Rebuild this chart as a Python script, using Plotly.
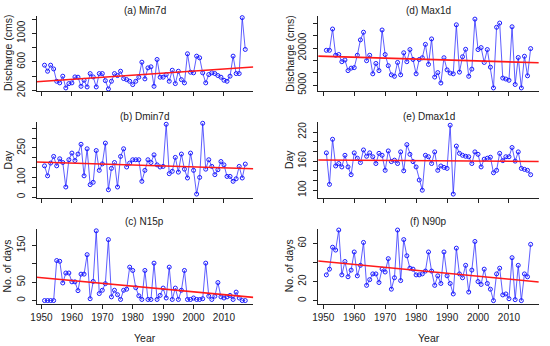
import numpy as np
import plotly.graph_objects as go

years = list(range(1951, 2018))

min7d = [553, 468, 553, 500, 327, 304, 398, 233, 294, 304, 388, 384, 256, 341, 247, 435, 388, 247, 435, 435,
         336, 219, 327, 435, 407, 468, 365, 350, 327, 280, 327, 384, 595, 360, 515, 530, 256, 633, 384, 384,
         421, 327, 482, 294, 468, 350, 304, 713, 454, 445, 680, 656, 445, 304, 421, 445, 435, 407, 384, 341,
         327, 398, 680, 435, 435, 1221, 774]

max1d = [19100, 19100, 27700, 17100, 17400, 14500, 15200, 10900, 11900, 12100, 17100, 23300, 26400, 14900, 17100,
         9600, 13800, 10900, 27300, 17400, 12900, 9200, 8600, 14200, 9200, 18100, 14500, 19400, 15400, 9600,
         15400, 16100, 21500, 13400, 23700, 8300, 10100, 5900, 16100, 11200, 9900, 9600, 29400, 10300, 16500,
         19500, 8600, 11500, 31700, 19400, 20200, 14200, 19400, 12300, 3900, 28400, 30100, 7900, 7500, 7000,
         28600, 5300, 16200, 3900, 16700, 8800, 19800]

dmin7d = [159, 108, 173, 207, 159, 195, 176, 51, 190, 224, 186, 219, 269, 108, 246, 63, 75, 237, 136, 169,
          275, 37, 146, 176, 51, 207, 246, 153, 173, 190, 190, 190, 80, 136, 190, 176, 215, 164, 153, 156,
          371, 119, 131, 202, 127, 219, 142, 97, 224, 136, 15, 100, 376, 142, 190, 156, 114, 139, 181, 164,
          105, 105, 80, 93, 156, 97, 168]

dmax1d = [177, 112, 205, 150, 155, 148, 172, 148, 132, 177, 166, 157, 183, 170, 177, 169, 155, 176, 172, 141,
          181, 159, 162, 155, 179, 140, 194, 174, 159, 148, 121, 100, 172, 169, 155, 179, 141, 150, 147, 145,
          234, 92, 191, 176, 172, 170, 169, 155, 179, 174, 148, 164, 166, 168, 136, 141, 176, 161, 169, 169,
          188, 160, 179, 145, 143, 141, 132]

n15p = [0, 0, 0, 0, 109, 107, 48, 75, 75, 51, 51, 27, 72, 72, 125, 5, 52, 190, 19, 28,
        46, 166, 10, 28, 16, 3, 28, 31, 91, 82, 35, 13, 3, 82, 3, 3, 102, 3, 14, 34,
        7, 91, 3, 34, 3, 28, 82, 3, 3, 7, 3, 3, 5, 102, 12, 3, 12, 49, 10, 7,
        10, 14, 3, 23, 7, 0, 0]

n90p = [27, 33, 56, 53, 74, 27, 41, 25, 32, 51, 26, 37, 61, 16, 22, 28, 28, 19, 33, 30,
        44, 12, 24, 74, 21, 64, 47, 34, 33, 27, 27, 28, 31, 51, 31, 16, 26, 18, 51, 26,
        18, 7, 55, 28, 24, 37, 9, 32, 62, 20, 17, 33, 18, 12, 0, 28, 34, 6, 7, 2,
        45, 1, 37, 0, 28, 25, 59]

xticks = [1950, 1960, 1970, 1980, 1990, 2000, 2010]
xlabels = [str(v) for v in xticks]
xrange_ = [1948.36, 2019.64]

W, H = 550, 346
FONT = "Liberation Sans, Arial, sans-serif"
INK = "#222222"

cols = {0: (36.5, 253.3), 1: (318.2, 538.8)}
rows = {0: (16.0, 91.0), 1: (122.3, 197.5), 2: (228.6, 303.5)}
title_y = {0: 11, 1: 116.5, 2: 222}

panels = [
    dict(y=min7d, title="(a) Min7d", ylab="Discharge (cms)", col=0, row=0, yr=[190, 1244],
         tv=[200, 400, 600, 800, 1000, 1200], tt=["200", "", "600", "", "1000", ""]),
    dict(y=dmin7d, title="(b) Dmin7d", ylab="Day", col=0, row=1, yr=[-2.5, 381],
         tv=[0, 50, 100, 150, 200, 250, 300, 350], tt=["0", "", "100", "", "", "250", "", ""]),
    dict(y=n15p, title="(c) N15p", ylab="No. of days", col=0, row=2, yr=[-8, 196],
         tv=[0, 50, 100, 150], tt=["0", "50", "", "150"]),
    dict(y=max1d, title="(d) Max1d", ylab="Discharge (cms)", col=1, row=0, yr=[2670, 32950],
         tv=[5000, 10000, 15000, 20000, 25000, 30000], tt=["5000", "", "", "20000", "", ""]),
    dict(y=dmax1d, title="(e) Dmax1d", ylab="Day", col=1, row=1, yr=[85, 240],
         tv=[100, 120, 140, 160, 180, 200, 220], tt=["100", "", "", "160", "", "", "220"]),
    dict(y=n90p, title="(f) N90p", ylab="No. of days", col=1, row=2, yr=[-3, 75.5],
         tv=[0, 20, 40, 60], tt=["0", "20", "", "60"]),
]

fig = go.Figure()
annotations = []
layout = {}
for i, p in enumerate(panels, start=1):
    sfx = "" if i == 1 else str(i)
    x0, x1 = cols[p["col"]]
    top, bot = rows[p["row"]]
    xa = "x" + sfx
    ya = "y" + sfx
    fig.add_trace(go.Scatter(
        x=years, y=p["y"], xaxis=xa, yaxis=ya, mode="lines+markers",
        line=dict(color="rgba(40,40,255,0.75)", width=1),
        marker=dict(symbol="circle-open", size=4, color="#1a1aff", line=dict(width=1)),
        hoverinfo="skip", cliponaxis=False))
    k, b = np.polyfit(years, p["y"], 1)
    fx = np.array(xrange_)
    fig.add_trace(go.Scatter(
        x=fx, y=k * fx + b, xaxis=xa, yaxis=ya, mode="lines",
        line=dict(color="#ff1a1a", width=1.6), hoverinfo="skip"))
    bottom_row = p["row"] == 2
    layout["xaxis" + sfx] = dict(
        domain=[x0 / W, x1 / W], range=xrange_, anchor=ya, automargin=False,
        showline=True, linecolor=INK, linewidth=1, mirror=False,
        ticks="outside", ticklen=4, tickwidth=1, tickcolor=INK,
        tickvals=xticks, ticktext=xlabels if bottom_row else [""] * len(xticks),
        showgrid=False, zeroline=False,
        tickfont=dict(family=FONT, size=10, color=INK))
    layout["yaxis" + sfx] = dict(
        domain=[1 - bot / H, 1 - top / H], range=p["yr"], anchor=xa, automargin=False,
        showline=True, linecolor=INK, linewidth=1,
        ticks="outside", ticklen=4, tickwidth=1, tickcolor=INK,
        tickvals=p["tv"], ticktext=p["tt"], tickangle=-90, ticklabelstandoff=3,
        showgrid=False, zeroline=False,
        tickfont=dict(family=FONT, size=10, color=INK))
    cx = (x0 + x1) / 2
    annotations.append(dict(
        text=p["title"], x=cx / W, y=1 - title_y[p["row"]] / H, xref="paper", yref="paper",
        xanchor="center", yanchor="middle", showarrow=False,
        font=dict(family=FONT, size=10, color=INK)))
    annotations.append(dict(
        text=p["ylab"], x=(x0 - 29) / W, y=1 - ((top + bot) / 2) / H, xref="paper", yref="paper",
        xanchor="center", yanchor="middle", showarrow=False, textangle=-90,
        font=dict(family=FONT, size=10.5, color=INK)))
    if bottom_row:
        annotations.append(dict(
            text="Year", x=cx / W, y=1 - 338 / H, xref="paper", yref="paper",
            xanchor="center", yanchor="middle", showarrow=False,
            font=dict(family=FONT, size=10.5, color=INK)))

fig.update_layout(
    template="none",
    width=W, height=H, autosize=False,
    margin=dict(l=0, r=0, t=0, b=0, pad=0),
    paper_bgcolor="white", plot_bgcolor="white",
    showlegend=False, hovermode=False, annotations=annotations, **layout)

fig.write_html("out.html",
               config={"displayModeBar": False, "staticPlot": True},
               post_script="document.body.style.margin='0';document.body.style.overflow='hidden';")
